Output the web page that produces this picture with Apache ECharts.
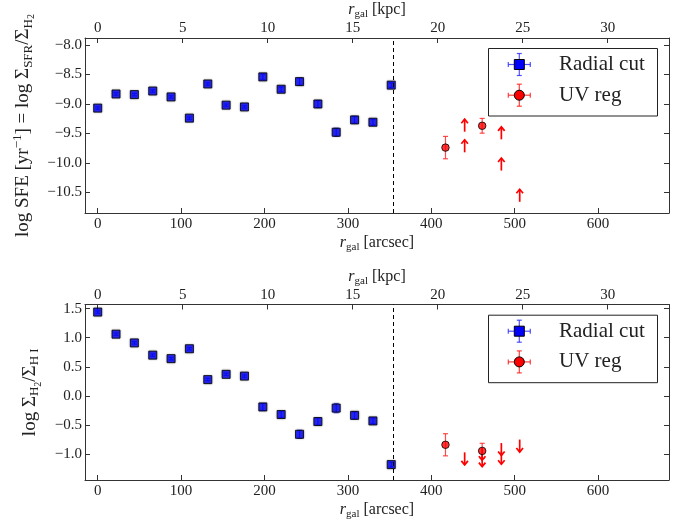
<!DOCTYPE html>
<html><head><meta charset="utf-8">
<script src="https://cdn.jsdelivr.net/npm/echarts@6/dist/echarts.min.js"></script>
<style>html,body{margin:0;padding:0;background:#fff}#c{width:687px;height:524px}</style>
</head><body><div id="c"></div>
<script>
// ---------------- data ----------------
const radialX = [0, 22, 44, 66, 88, 110, 132, 154, 176, 198, 220, 242, 264, 286, 308, 330, 352];
const sfeRadial = [-9.07, -8.83, -8.84, -8.78, -8.88, -9.24, -8.66, -9.02, -9.05, -8.54, -8.75, -8.62, -9.00, -9.48, -9.27, -9.31, -8.68];
const sfeRadialErr = [0.02, 0.02, 0.02, 0.02, 0.02, 0.02, 0.02, 0.02, 0.02, 0.05, 0.04, 0.06, 0.06, 0.07, 0.06, 0.05, 0.04];
const uvX = [417, 461];
const sfeUV = [-9.74, -9.37];
const sfeUVErr = [0.19, 0.125];
const sfeLimX = [440, 440, 484, 484, 506];
const sfeLimY = [-9.47, -9.82, -9.60, -10.13, -10.66];

const ratioRadial = [1.44, 1.06, 0.91, 0.70, 0.64, 0.81, 0.28, 0.37, 0.34, -0.19, -0.32, -0.66, -0.44, -0.21, -0.335, -0.43, -1.18];
const ratioRadialErr = [0.02, 0.02, 0.02, 0.02, 0.02, 0.02, 0.02, 0.02, 0.02, 0.06, 0.05, 0.07, 0.06, 0.08, 0.06, 0.05, 0.04];
const ratioUV = [-0.84, -0.945];
const ratioUVErr = [0.19, 0.13];
const ratioLimX = [440, 461, 461, 484, 484, 506];
const ratioLimY = [-0.97, -0.89, -1.00, -0.81, -0.96, -0.75];

const cutoffX = 354.4;
const arcsecTicks = [0, 100, 200, 300, 400, 500, 600];
const kpcTicks = [0, 5, 10, 15, 20, 25, 30];
const sfeTicks = [-10.5, -10.0, -9.5, -9.0, -8.5, -8.0];
const ratioTicks = [-1.0, -0.5, 0.0, 0.5, 1.0, 1.5];
const legendNames = ['Radial cut', 'UV reg'];

// ---------------- setup ----------------
const KPC_PER_ARCSEC = 0.04906;
const xMin = -15.2, xMax = 685;
const FONT = 'Liberation Serif';
const TXT = '#222';
const AX = '#333';
const chart = echarts.init(document.getElementById('c'));

function makeRich(s) {
  return {
    n: {fontFamily: FONT, fontSize: s, color: TXT},
    i: {fontFamily: FONT, fontSize: s, fontStyle: 'italic', color: TXT},
    sub: {fontFamily: FONT, fontSize: Math.round(s * 0.68), color: TXT, padding: [Math.round(s * 0.55), 0, 0, 0]},
    subsub: {fontFamily: FONT, fontSize: Math.round(s * 0.5), color: TXT, padding: [Math.round(s * 0.85), 0, 0, 0]},
    sup: {fontFamily: FONT, fontSize: Math.round(s * 0.68), color: TXT, padding: [0, 0, Math.round(s * 0.6), 0]}
  };
}
const richX = makeRich(16);
const richY = makeRich(19);
const fmtY = v => v.toFixed(1).replace('-', '\u2212');
const fmtX = v => String(Math.round(v));

function xAxes(grid) {
  return [
    {gridIndex: grid, type: 'value', position: 'bottom', min: xMin, max: xMax,
     name: '{i|r}{sub|gal}{n| [arcsec]}', nameLocation: 'middle', nameGap: 20,
     nameTextStyle: {rich: richX},
     axisLine: {onZero: false, lineStyle: {color: AX, width: 1}},
     axisTick: {inside: true, length: 5, customValues: arcsecTicks, lineStyle: {color: AX}},
     axisLabel: {customValues: arcsecTicks, formatter: fmtX, margin: 4, fontFamily: FONT, fontSize: 15, color: TXT},
     splitLine: {show: false}},
    {gridIndex: grid, type: 'value', position: 'top', min: xMin * KPC_PER_ARCSEC, max: xMax * KPC_PER_ARCSEC,
     name: '{i|r}{sub|gal}{n| [kpc]}', nameLocation: 'middle', nameGap: 17,
     nameTextStyle: {rich: richX},
     axisLine: {onZero: false, lineStyle: {color: AX, width: 1}},
     axisTick: {inside: true, length: 5, customValues: kpcTicks, lineStyle: {color: AX}},
     axisLabel: {customValues: kpcTicks, formatter: fmtX, margin: 2, fontFamily: FONT, fontSize: 15, color: TXT},
     splitLine: {show: false}}
  ];
}
function yAxes(grid, min, max, ticks, name, gap) {
  return [
    {gridIndex: grid, type: 'value', position: 'left', min, max,
     name, nameLocation: 'middle', nameGap: gap, nameTextStyle: {rich: richY},
     axisLine: {show: true, onZero: false, lineStyle: {color: AX, width: 1}},
     axisTick: {show: true, inside: true, length: 5, customValues: ticks, lineStyle: {color: AX}},
     axisLabel: {customValues: ticks, formatter: fmtY, margin: 3, fontFamily: FONT, fontSize: 15, color: TXT},
     splitLine: {show: false}},
    {gridIndex: grid, type: 'value', position: 'right', min, max,
     axisLine: {show: true, onZero: false, lineStyle: {color: AX, width: 1}},
     axisTick: {show: true, inside: true, length: 5, customValues: ticks, lineStyle: {color: AX}},
     axisLabel: {show: false},
     splitLine: {show: false}}
  ];
}

function errRender(color) {
  return function (params, api) {
    const x = api.value(0), y = api.value(1), e = api.value(2);
    const hi = api.coord([x, y + e]), lo = api.coord([x, y - e]);
    const w = 2.5, st = {stroke: color, lineWidth: 1.2};
    return {type: 'group', children: [
      {type: 'line', shape: {x1: hi[0], y1: hi[1], x2: lo[0], y2: lo[1]}, style: st},
      {type: 'line', shape: {x1: hi[0] - w, y1: hi[1], x2: hi[0] + w, y2: hi[1]}, style: st},
      {type: 'line', shape: {x1: lo[0] - w, y1: lo[1], x2: lo[0] + w, y2: lo[1]}, style: st}
    ]};
  };
}
function arrowRender(dir) { // dir = +1 up, -1 down
  return function (params, api) {
    const p = api.coord([api.value(0), api.value(1)]);
    const L = 12.5, hw = 3.3, hl = 4;
    const tip = p[1] - dir * L;
    const st = {stroke: '#ff0000', lineWidth: 1.7, fill: null, lineJoin: 'miter'};
    return {type: 'group', children: [
      {type: 'line', shape: {x1: p[0], y1: p[1], x2: p[0], y2: tip}, style: st},
      {type: 'polyline', shape: {points: [[p[0] - hw, tip + dir * hl], [p[0], tip], [p[0] + hw, tip + dir * hl]]}, style: st}
    ]};
  };
}

function panelSeries(xi, yi, radialY, radialE, uvY, uvE, limX, limY, dir) {
  return [
    {type: 'custom', xAxisIndex: xi, yAxisIndex: yi, renderItem: errRender('rgba(40,40,255,0.75)'),
     encode: {x: 0, y: 1}, data: radialX.map((x, i) => [x, radialY[i], radialE[i]]), z: 2, silent: true},
    {type: 'scatter', xAxisIndex: xi, yAxisIndex: yi, symbol: 'rect', symbolSize: 8,
     itemStyle: {color: '#0000ff', borderColor: '#000', borderWidth: 1, shadowColor: 'rgba(0,0,0,0.35)', shadowBlur: 2},
     data: radialX.map((x, i) => [x, radialY[i]]), z: 3,
     markLine: {silent: true, symbol: 'none', label: {show: false},
       lineStyle: {color: '#000', type: [4, 3], width: 1}, data: [{xAxis: cutoffX}]}},
    {type: 'custom', xAxisIndex: xi, yAxisIndex: yi, renderItem: errRender('rgba(255,30,30,0.8)'),
     encode: {x: 0, y: 1}, data: uvX.map((x, i) => [x, uvY[i], uvE[i]]), z: 2, silent: true},
    {type: 'custom', xAxisIndex: xi, yAxisIndex: yi, renderItem: arrowRender(dir),
     encode: {x: 0, y: 1}, data: limX.map((x, i) => [x, limY[i]]), z: 2, silent: true},
    {type: 'scatter', xAxisIndex: xi, yAxisIndex: yi, symbol: 'circle', symbolSize: 7.5,
     itemStyle: {color: '#ff0000', borderColor: '#000', borderWidth: 1},
     data: uvX.map((x, i) => [x, uvY[i]]), z: 3}
  ];
}

function legendBox(top) {
  const L = 488.5, W = 169, H = 67.5;
  const items = [
    {y: top + 16, c: '#0000ff', ec: 'rgba(40,40,255,0.8)', shape: 'rect'},
    {y: top + 46.7, c: '#ff0000', ec: 'rgba(255,30,30,0.85)', shape: 'circle'}
  ];
  const ch = [{type: 'rect', shape: {x: L, y: top, width: W, height: H}, style: {fill: '#fff', stroke: '#222', lineWidth: 1}, z: 10}];
  const cx = 519.3;
  items.forEach((it, k) => {
    const st = {stroke: it.ec, lineWidth: 1.2};
    ch.push({type: 'line', shape: {x1: cx - 11, y1: it.y, x2: cx + 11, y2: it.y}, style: st, z: 11});
    ch.push({type: 'line', shape: {x1: cx, y1: it.y - 11, x2: cx, y2: it.y + 11}, style: st, z: 11});
    ch.push({type: 'line', shape: {x1: cx - 11, y1: it.y - 2.5, x2: cx - 11, y2: it.y + 2.5}, style: st, z: 11});
    ch.push({type: 'line', shape: {x1: cx + 11, y1: it.y - 2.5, x2: cx + 11, y2: it.y + 2.5}, style: st, z: 11});
    ch.push({type: 'line', shape: {x1: cx - 2.5, y1: it.y - 11, x2: cx + 2.5, y2: it.y - 11}, style: st, z: 11});
    ch.push({type: 'line', shape: {x1: cx - 2.5, y1: it.y + 11, x2: cx + 2.5, y2: it.y + 11}, style: st, z: 11});
    if (it.shape === 'rect') ch.push({type: 'rect', shape: {x: cx - 5, y: it.y - 5, width: 10, height: 10}, style: {fill: it.c, stroke: '#000', lineWidth: 1}, z: 12});
    else ch.push({type: 'circle', shape: {cx, cy: it.y, r: 5}, style: {fill: it.c, stroke: '#000', lineWidth: 1}, z: 12});
    ch.push({type: 'text', x: 559, y: it.y, style: {text: legendNames[k], fontFamily: FONT, fontSize: 21, fill: TXT, verticalAlign: 'middle', align: 'left'}, z: 12});
  });
  return ch;
}

const option = {
  animation: false,
  backgroundColor: '#fff',
  grid: [
    {left: 85, top: 38, width: 584, height: 175, outerBoundsMode: 'none', containLabel: false},
    {left: 85, top: 304.5, width: 584, height: 175.5, outerBoundsMode: 'none', containLabel: false}
  ],
  xAxis: [...xAxes(0), ...xAxes(1)],
  yAxis: [
    ...yAxes(0, -10.85, -7.88, sfeTicks, '{n|log SFE [yr}{sup|\u22121}{n|] = log \u03A3}{sub|SFR}{n|/\u03A3}{sub|H}{subsub|2}', 48),
    ...yAxes(1, -1.445, 1.57, ratioTicks, '{n|log \u03A3}{sub|H}{subsub|2}{n|/\u03A3}{sub|H I}', 42)
  ],
  series: [
    ...panelSeries(0, 0, sfeRadial, sfeRadialErr, sfeUV, sfeUVErr, sfeLimX, sfeLimY, 1),
    ...panelSeries(2, 2, ratioRadial, ratioRadialErr, ratioUV, ratioUVErr, ratioLimX, ratioLimY, -1)
  ],
  graphic: [...legendBox(48.5), ...legendBox(315.2)]
};
chart.setOption(option);
</script></body></html>
